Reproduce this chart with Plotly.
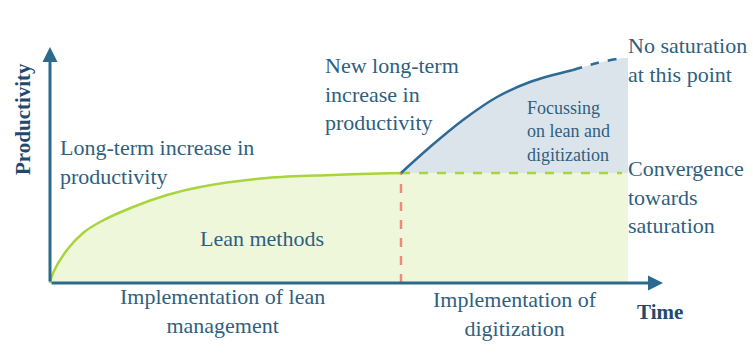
import plotly.graph_objects as go

# ---- data (time units, productivity units) ----
lean_time = [0, 3, 17, 33, 50, 83, 117, 150, 217, 283, 351]
lean_prod = [0, 10, 33, 50, 61, 76, 88, 96, 105, 108, 110]

digi_time = [351, 380, 413, 447, 480, 523]
digi_prod = [110, 136, 163, 186, 201, 213]

digi_ext_time = [523, 547, 572]
digi_ext_prod = [213, 220, 225]

sat_time = [351, 572]
sat_prod = [110, 110]

switch_time = [351, 351]
switch_prod = [0, 110]

fill_end = 578

TXT = "#2f5f7f"
AX = "#2b6a8f"
FONT = "Liberation Serif"

fig = go.Figure()

# green fill under lean curve + saturation
gx = lean_time + [fill_end, fill_end, 0]
gy = lean_prod + [lean_prod[-1], 0, 0]
fig.add_trace(go.Scatter(x=gx, y=gy, fill="toself", fillcolor="#eff7da",
                         line=dict(width=0), mode="lines", hoverinfo="skip"))
# blue fill
bx = digi_time + digi_ext_time[1:] + [fill_end, fill_end, digi_time[0]]
by = digi_prod + digi_ext_prod[1:] + [digi_ext_prod[-1], sat_prod[0], sat_prod[0]]
fig.add_trace(go.Scatter(x=bx, y=by, fill="toself", fillcolor="#dbe4eb",
                         line=dict(width=0), mode="lines", hoverinfo="skip"))

# lines
fig.add_trace(go.Scatter(x=lean_time, y=lean_prod, mode="lines",
                         line=dict(color="#a8d43c", width=2.5, shape="spline")))
fig.add_trace(go.Scatter(x=sat_time, y=sat_prod, mode="lines",
                         line=dict(color="#a8d43c", width=2.5, dash="dash")))
fig.add_trace(go.Scatter(x=switch_time, y=switch_prod, mode="lines",
                         line=dict(color="#f08a78", width=2.5, dash="dash")))
fig.add_trace(go.Scatter(x=digi_time, y=digi_prod, mode="lines",
                         line=dict(color="#2e6a96", width=2.5, shape="spline")))
fig.add_trace(go.Scatter(x=digi_ext_time, y=digi_ext_prod, mode="lines",
                         line=dict(color="#2e6a96", width=2.5, dash="dash", shape="spline")))

# axes arrows
fig.add_annotation(x=0, y=236, ax=0, ay=0, xref="x", yref="y", axref="x", ayref="y",
                   showarrow=True, arrowhead=2, arrowsize=1, arrowwidth=3, arrowcolor=AX, text="")
fig.add_annotation(x=613, y=0, ax=0, ay=0, xref="x", yref="y", axref="x", ayref="y",
                   showarrow=True, arrowhead=2, arrowsize=1, arrowwidth=3, arrowcolor=AX, text="")

def txt(s, x, y, xa="left", ya="middle", size=22, bold=False, align="left", angle=0, color=TXT):
    if bold:
        s = "<b>" + s + "</b>"
    fig.add_annotation(x=x, y=y, xref="x", yref="y", text=s, showarrow=False,
                       xanchor=xa, yanchor=ya, align=align, textangle=angle,
                       font=dict(family=FONT, size=size, color=color))

txt("Productivity", -27, 164, xa="center", size=21, bold=True, angle=-90, color="#1f4a6e")
txt("Long-term increase in<br>productivity", 8, 121)
txt("Lean methods", 212, 45, xa="center")
txt("Implementation of lean<br>management", 172, -28, xa="center", align="center")
txt("New long-term<br>increase in<br>productivity", 273, 189)
txt("Focussing<br>on lean and<br>digitization", 475, 152, size=18)
txt("No saturation<br>at this point", 576, 223)
txt("Convergence<br>towards<br>saturation", 576, 86)
txt("Implementation of<br>digitization", 465, -31, xa="center", align="center")
txt("Time", 610, -29, xa="center", size=21, bold=True, color="#1f4a6e")

fig.update_layout(
    width=753, height=354, margin=dict(l=0, r=0, t=0, b=0),
    paper_bgcolor="white", plot_bgcolor="white", showlegend=False,
    xaxis=dict(range=[-50, 703], visible=False, fixedrange=True),
    yaxis=dict(range=[-71, 283], visible=False, fixedrange=True),
)
fig.write_html("out.html")
